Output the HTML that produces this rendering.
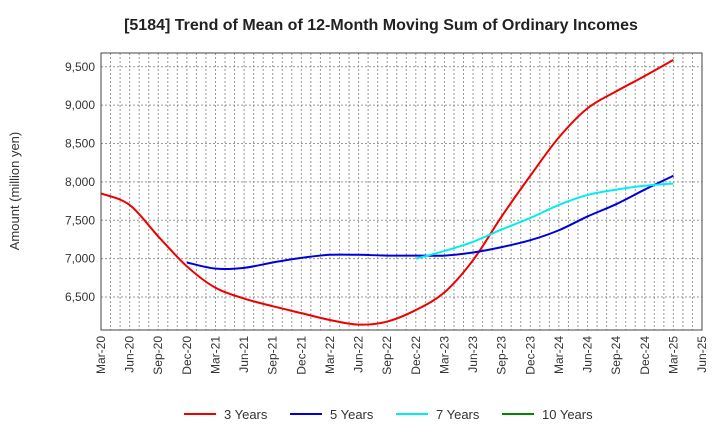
<!DOCTYPE html>
<html><head><meta charset="utf-8"><style>
body{margin:0;background:#fff;font-family:"Liberation Sans",sans-serif}
svg text{font-family:"Liberation Sans",sans-serif}
</style></head><body>
<svg id="c" width="720" height="440">
<text x="381" y="30" text-anchor="middle" font-size="16" font-weight="bold" fill="#222">[5184]  Trend of Mean of 12-Month Moving Sum of Ordinary Incomes</text>
<text transform="translate(19,191) rotate(-90)" text-anchor="middle" font-size="13" fill="#333">Amount (million yen)</text>
<g id="grid"></g><g id="series"></g><g id="axes"></g><g id="legend"></g>
</svg>
<script>
const categories=["Mar-20","Jun-20","Sep-20","Dec-20","Mar-21","Jun-21","Sep-21","Dec-21","Mar-22","Jun-22","Sep-22","Dec-22","Mar-23","Jun-23","Sep-23","Dec-23","Mar-24","Jun-24","Sep-24","Dec-24","Mar-25","Jun-25"];
const yTicks=[6500,7000,7500,8000,8500,9000,9500];
const s3=[7850,7700,7290,6900,6620,6480,6380,6290,6200,6140,6180,6330,6560,6980,7550,8080,8580,8960,9180,9380,9590];
const s5=[null,null,null,6950,6870,6880,6950,7010,7050,7050,7040,7040,7040,7080,7150,7240,7370,7550,7710,7900,8080];
const s7=[null,null,null,null,null,null,null,null,null,null,null,7000,7100,7220,7380,7530,7700,7830,7900,7950,7980];
const s10=[];
const X0=101,X1=702,Y0=53,Y1=330,VMIN=6070,VMAX=9680;
const NS='http://www.w3.org/2000/svg';
const xs=i=>X0+i*(X1-X0)/(categories.length-1);
const ys=v=>Y1-(v-VMIN)/(VMAX-VMIN)*(Y1-Y0);
function mk(t,a,p){const e=document.createElementNS(NS,t);for(const k in a)e.setAttribute(k,a[k]);p.appendChild(e);return e;}
const G=document.getElementById('grid'),S=document.getElementById('series'),A=document.getElementById('axes'),L=document.getElementById('legend');
for(let m=1;m<(categories.length-1)*3;m++){const x=X0+m*(X1-X0)/((categories.length-1)*3);
const l=mk('line',{x1:x,x2:x,y1:Y0,y2:Y1,stroke:'#999','stroke-dasharray':'2,2','stroke-width':1},G);

}
yTicks.forEach(v=>{const y=ys(v);
const l=mk('line',{x1:X0,x2:X1,y1:y,y2:y,stroke:'#999','stroke-dasharray':'2,2'},G);


const t=mk('text',{x:X0-6,y:y+4,'text-anchor':'end','font-size':12,fill:'#333'},A);t.textContent=v.toLocaleString('en-US');

});
const fr=mk('rect',{x:X0,y:Y0,width:X1-X0,height:Y1-Y0,fill:'none',stroke:'#444'},A);


categories.forEach((c,i)=>{const x=xs(i);
const t=mk('text',{transform:`translate(${x+4},${Y1+6}) rotate(-90)`,'text-anchor':'end','font-size':12,fill:'#333'},A);t.textContent=c;

});
function path(arr){const p=[];arr.forEach((v,i)=>{if(v!=null)p.push([xs(i),ys(v)]);});if(p.length<2)return '';
let d=`M${p[0][0]},${p[0][1]}`;for(let i=0;i<p.length-1;i++){const a=p[i-1]||p[i],b=p[i],c=p[i+1],e=p[i+2]||c;
d+=` C${b[0]+(c[0]-a[0])/6},${b[1]+(c[1]-a[1])/6} ${c[0]-(e[0]-b[0])/6},${c[1]-(e[1]-b[1])/6} ${c[0]},${c[1]}`;}return d;}
const series=[[s3,'#ee0000','3 Years','line-3-years'],[s5,'#0000dd','5 Years','line-5-years'],[s7,'#00eeee','7 Years','line-7-years'],[s10,'#008800','10 Years','line-10-years']];
series.forEach(([d,col,nm,id],k)=>{const pd=path(d);if(pd){const p=mk('path',{d:pd,fill:'none',stroke:col,'stroke-width':2},S);

}
const lx=[184,290,396,502][k];
const g=mk('g',{},L);


mk('line',{x1:lx,x2:lx+32,y1:414,y2:414,stroke:col,'stroke-width':2},g);
const t=mk('text',{x:lx+40,y:419,'font-size':13,fill:'#333'},g);t.textContent=nm;});
</script>
</body></html>
